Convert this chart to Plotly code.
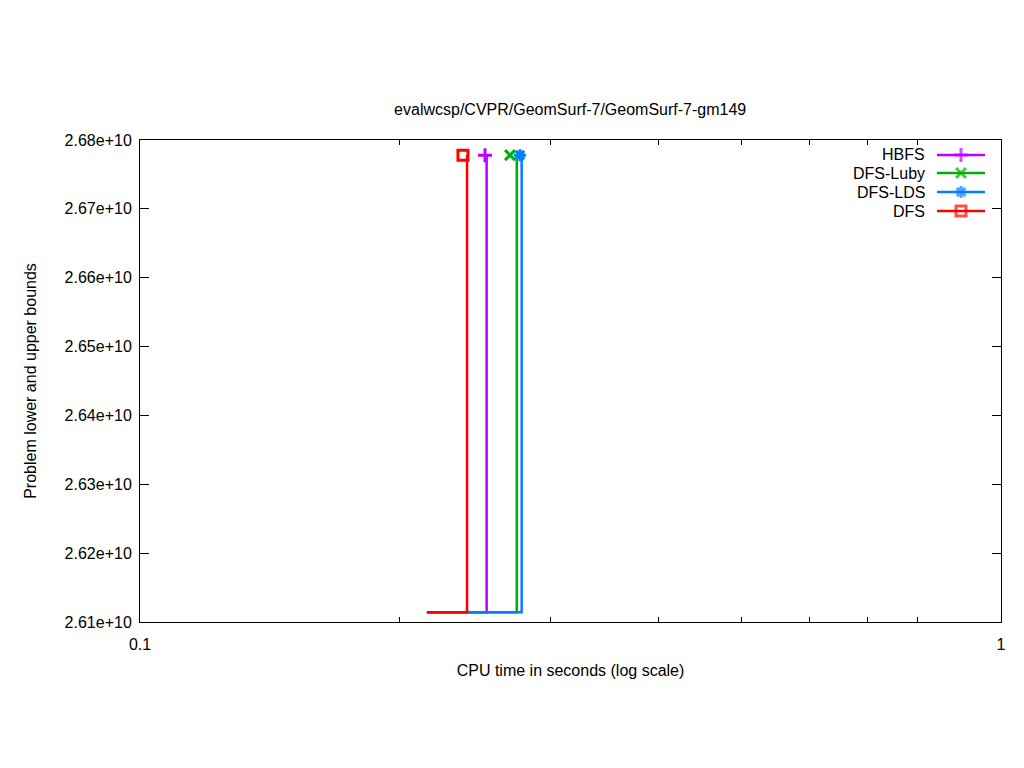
import plotly.graph_objects as go

# ---- data ----
solvers = ["HBFS", "DFS-Luby", "DFS-LDS", "DFS"]
colors = ["#c000ff", "#00b000", "#0080ff", "#ff0000"]
symbols = ["cross-thin-open", "x-thin-open", "asterisk-open", "square-open"]
start_time = 0.2154
lower_bound = 2.6114e10
upper_bound = 2.6778e10
jump_times = [0.2527, 0.2739, 0.2775, 0.2398]      # time when the step rises
ub_times = [0.2516, 0.2690, 0.2763, 0.2372]        # time of the upper-bound point
x_ticks = [0.1, 1]
x_minor = [0.2, 0.3, 0.4, 0.5, 0.6, 0.7, 0.8, 0.9]
y_ticks = [2.61e10, 2.62e10, 2.63e10, 2.64e10, 2.65e10, 2.66e10, 2.67e10, 2.68e10]

FONT = "Liberation Sans, Arial, sans-serif"

fig = go.Figure()
for name, col, sym, tj, tu in zip(solvers, colors, symbols, jump_times, ub_times):
    fig.add_trace(go.Scatter(
        x=[start_time, tj, tj], y=[lower_bound, lower_bound, upper_bound],
        mode="lines", line=dict(color=col, width=2.5), showlegend=False,
        hoverinfo="skip"))
    fig.add_trace(go.Scatter(
        x=[tu], y=[upper_bound], mode="markers",
        marker=dict(symbol=sym, size=10, color=col, line=dict(color=col, width=3)),
        showlegend=False))

# manual gnuplot-style legend (text right-aligned, sample on the right)
leg_y = [0.9689, 0.9315, 0.8921, 0.8527]
for name, col, sym, ly in zip(solvers, colors, symbols, leg_y):
    fig.add_trace(go.Scatter(
        x=[0.0, 0.5, 1.0], y=[ly, ly, ly], xaxis="x2", yaxis="y2",
        mode="lines+markers", line=dict(color=col, width=2.5),
        marker=dict(symbol=sym, size=[0, 10, 0], color=col,
                    line=dict(color=col, width=3)),
        showlegend=False, hoverinfo="skip"))
    fig.add_annotation(xref="x2", yref="y2", x=0, y=ly, xshift=-10, text=name,
                       showarrow=False, xanchor="right", yanchor="middle",
                       font=dict(family=FONT, size=16, color="#000"))

fig.update_layout(
    width=1024, height=768,
    margin=dict(l=132, r=31, t=132, b=154),
    paper_bgcolor="white", plot_bgcolor="white",
    font=dict(family=FONT, size=16, color="#000"),
    title=dict(text="evalwcsp/CVPR/GeomSurf-7/GeomSurf-7-gm149",
               x=0.549, xanchor="center", y=0.8685, yanchor="middle",
               font=dict(family=FONT, size=16)),
    xaxis=dict(type="log", range=[-1, 0], tickvals=x_ticks, ticktext=["0.1", "1"],
               ticks="inside", ticklen=9, tickcolor="#000", mirror="allticks",
               showline=True, linecolor="#000", linewidth=1, showgrid=False,
               zeroline=False, tickfont=dict(size=16), ticklabelstandoff=8,
               minor=dict(tickvals=x_minor, ticks="inside", ticklen=5,
                          tickcolor="#000", showgrid=False),
               title=dict(text="CPU time in seconds (log scale)", standoff=12,
                          font=dict(size=16))),
    yaxis=dict(range=[2.61e10, 2.68e10], tickvals=y_ticks, tickformat=".2e",
               ticks="inside", ticklen=9, tickcolor="#000", mirror="allticks",
               showline=True, linecolor="#000", linewidth=1, showgrid=False,
               zeroline=False, tickfont=dict(size=16), ticklabelstandoff=4,
               title=dict(text="Problem lower and upper bounds", standoff=24,
                          font=dict(size=16))),
    xaxis2=dict(domain=[0.9257, 0.9814], range=[0, 1], visible=False, fixedrange=True,
                anchor="y2"),
    yaxis2=dict(domain=[0.0, 1.0], range=[0, 1], visible=False, fixedrange=True,
                anchor="x2"),
)

fig.write_html("out.html")
